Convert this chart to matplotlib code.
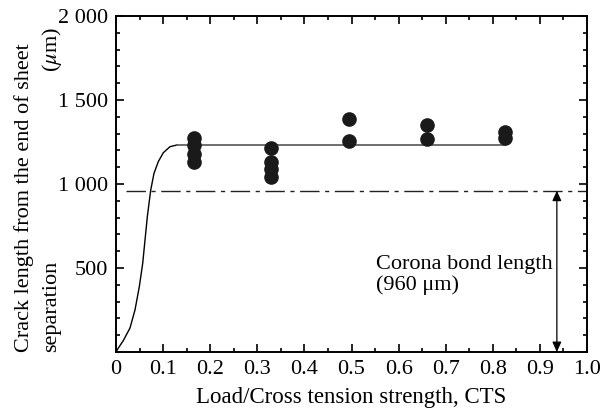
import matplotlib
matplotlib.use("Agg")
import matplotlib.pyplot as plt
from matplotlib.ticker import MultipleLocator, FixedLocator

plt.rcParams['font.family'] = ['Liberation Serif', 'DejaVu Serif']
plt.rcParams['mathtext.fontset'] = 'stix'

# measured crack lengths (um) at each load ratio
load_x = [0.165, 0.165, 0.165, 0.165,
          0.33, 0.33, 0.33, 0.33,
          0.495, 0.495,
          0.66, 0.66,
          0.825, 0.825]
crack_y = [1274, 1232, 1180, 1128,
           1214, 1131, 1089, 1042,
           1387, 1256,
           1351, 1268,
           1310, 1275]

# trend curve
curve_x = [0, 0.006, 0.0155, 0.0297, 0.0403, 0.0495, 0.0567, 0.0616, 0.0665,
           0.0737, 0.0807, 0.0898, 0.1004, 0.1146, 0.1289, 0.825]
curve_y = [0, 28, 68, 143, 250, 389, 528, 667, 805,
           964, 1064, 1133, 1186, 1222, 1232, 1232]

corona_len = 960
arrow_x = 0.936

y_ticks = [500, 1000, 1500, 2000]
y_labels = ['500', '1 000', '1 500', '2 000']
x_ticks = [0, 0.1, 0.2, 0.3, 0.4, 0.5, 0.6, 0.7, 0.8, 0.9, 1.0]
x_labels = ['0', '0.1', '0.2', '0.3', '0.4', '0.5', '0.6', '0.7', '0.8', '0.9', '1.0']

fs = 16
fig = plt.figure(figsize=(6.14, 4.12), dpi=100)
ax = fig.add_axes([0.18893, 0.14563, 0.76710, 0.81553])

# rising part black, plateau grey
ax.plot(curve_x[:-1], curve_y[:-1], color='black', lw=1.0, zorder=3)
ax.plot(curve_x[-2:], curve_y[-2:], color='#555555', lw=1.2, zorder=3)
ax.plot(load_x, crack_y, 'o', color='#1a1a1a', ms=9.5, mec='#1a1a1a', zorder=4)
ax.axhline(corona_len, color='#222222', lw=1.0, dashes=(14, 4, 3, 4), xmin=0.021)

ax.annotate('', xy=(arrow_x, corona_len), xytext=(arrow_x, 0),
            arrowprops=dict(arrowstyle='<|-|>,head_length=0.4,head_width=0.18',
                            color='black', lw=0.9, mutation_scale=15,
                            shrinkA=0, shrinkB=0))
ax.text(0.927, 458, 'Corona bond length\n(960 μm)', fontsize=fs, ha='right',
        va='center', multialignment='left', linespacing=1.05)

ax.set_xlim(0, 1.0)
ax.set_ylim(0, 2000)
ax.xaxis.set_major_locator(FixedLocator(x_ticks))
ax.set_xticklabels(x_labels)
ax.xaxis.set_minor_locator(MultipleLocator(0.05))
ax.yaxis.set_major_locator(FixedLocator(y_ticks))
ax.set_yticklabels(y_labels)
ax.yaxis.set_minor_locator(MultipleLocator(100))
ax.tick_params(which='both', direction='in', top=True, right=True, labelsize=fs, width=1.2)
ax.tick_params(which='major', length=5.5)
ax.tick_params(which='minor', length=3)
ax.tick_params(axis='x', which='major', pad=6)
ax.tick_params(axis='y', which='major', pad=5.5)
for sp in ax.spines.values():
    sp.set_linewidth(1.4)

fig.text(0.5725, 0.022, 'Load/Cross tension strength, CTS', fontsize=16.5,
         ha='center', va='baseline')
fig.text(0.039, 0.1456, 'Crack length from the end of sheet', rotation=90,
         fontsize=fs, ha='center', va='bottom')
fig.text(0.084, 0.1456, 'separation', rotation=90, fontsize=fs,
         ha='center', va='bottom')
fig.text(0.084, 1 - 27 / 412, '($\\mu$m)', rotation=90, fontsize=fs,
         ha='center', va='top')

fig.savefig('out.png', dpi=100)
